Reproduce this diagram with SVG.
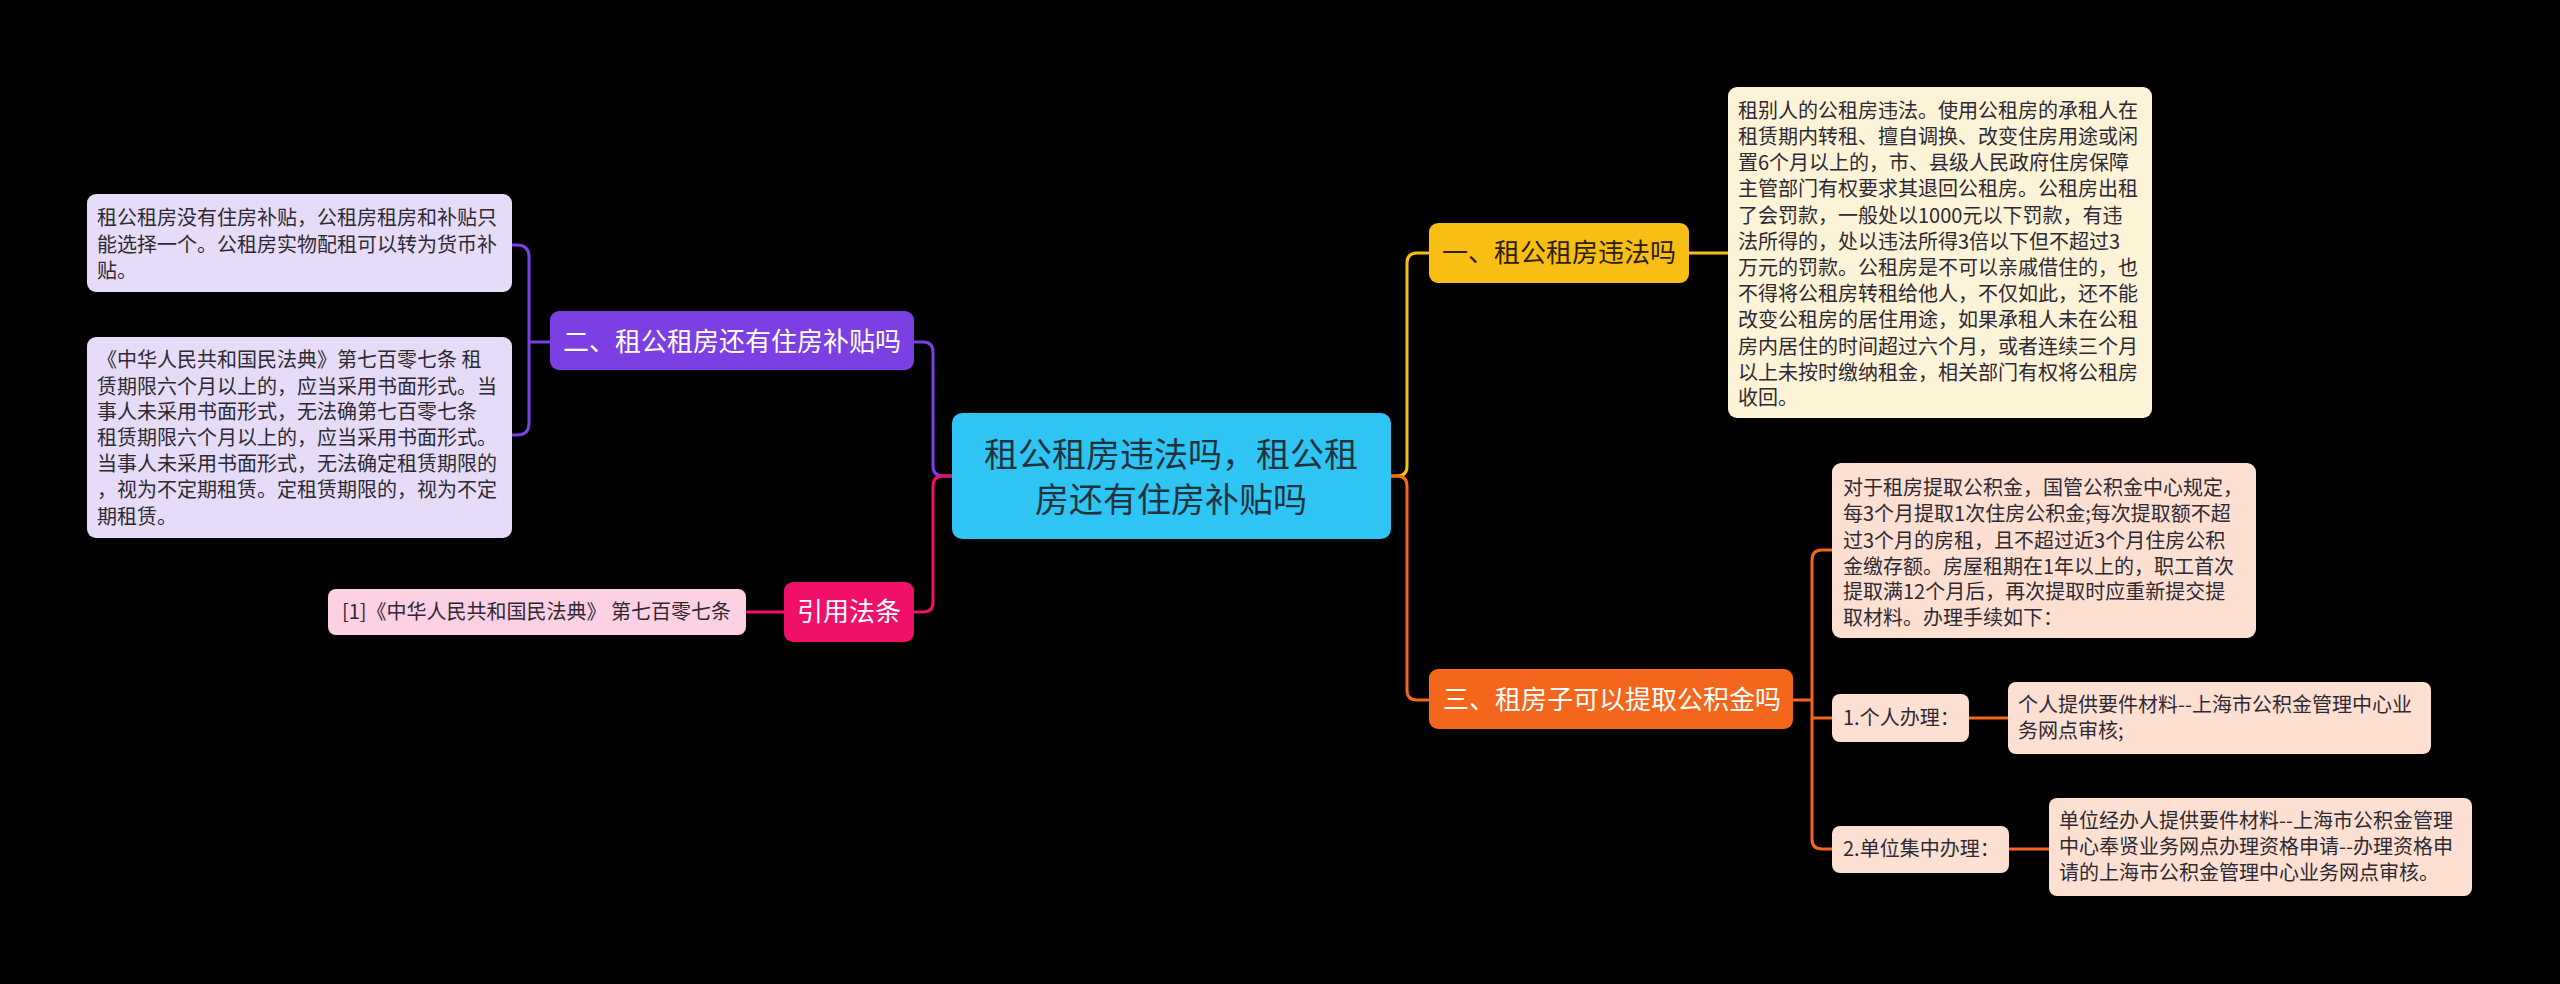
<svg xmlns="http://www.w3.org/2000/svg" width="2560" height="984" viewBox="0 0 2560 984">
<style>
text{font-family:"Noto Sans CJK SC","Noto Sans",sans-serif}
.d{font-size:20px;fill:#2e2a33}
.n{font-size:26px}
.c{fill:none;stroke-width:3}
</style>
<rect width="2560" height="984" fill="#000"/>
<g id="connectors">
<path class="c" stroke="#7b3fe4" d="M952,476 H943 Q933,476 933,466 V352 Q933,342 923,342 H914"/>
<path class="c" stroke="#f0106a" d="M952,476 H943 Q933,476 933,486 V602 Q933,612 923,612 H914"/>
<path class="c" stroke="#7b3fe4" d="M550,342 H529 M529,342 V257 Q529,245 517,245 H512 M529,342 V423 Q529,435 517,435 H512"/>
<path class="c" stroke="#f0106a" d="M784,612 H746"/>
<path class="c" stroke="#f9be14" d="M1391,476 H1397 Q1407,476 1407,466 V263 Q1407,253 1417,253 H1429"/>
<path class="c" stroke="#f4661b" d="M1391,476 H1397 Q1407,476 1407,486 V690 Q1407,700 1417,700 H1429"/>
<path class="c" stroke="#f9be14" d="M1689,253 H1728"/>
<path class="c" stroke="#f4661b" d="M1793,700 H1812 M1812,700 V560 Q1812,550 1822,550 H1832 M1812,700 V718 H1832 M1812,718 V839 Q1812,849 1822,849 H1832"/>
<path class="c" stroke="#f4661b" d="M1969,718 H2008 M2009,849 H2049"/>
</g>
<g id="center">
<rect x="952" y="413" width="439" height="126" rx="10" fill="#2ec4f3"/>
<text x="1171" y="467" font-size="34" fill="#1f333d" text-anchor="middle">租公租房违法吗，租公租</text>
<text x="1171" y="512" font-size="34" fill="#1f333d" text-anchor="middle">房还有住房补贴吗</text>
</g>
<g id="n1">
<rect x="1429" y="223" width="260" height="60" rx="9" fill="#f9be14"/>
<text class="n" x="1442" y="262" fill="#2b2100">一、租公租房违法吗</text>
</g>
<g id="n1d">
<rect x="1728" y="87" width="424" height="331" rx="9" fill="#fdf3d6"/>
<text class="d" x="1738" y="118">租别人的公租房违法。使用公租房的承租人在</text>
<text class="d" x="1738" y="144">租赁期内转租、擅自调换、改变住房用途或闲</text>
<text class="d" x="1738" y="170">置6个月以上的，市、县级人民政府住房保障</text>
<text class="d" x="1738" y="196">主管部门有权要求其退回公租房。公租房出租</text>
<text class="d" x="1738" y="223">了会罚款，一般处以1000元以下罚款，有违</text>
<text class="d" x="1738" y="249">法所得的，处以违法所得3倍以下但不超过3</text>
<text class="d" x="1738" y="275">万元的罚款。公租房是不可以亲戚借住的，也</text>
<text class="d" x="1738" y="301">不得将公租房转租给他人，不仅如此，还不能</text>
<text class="d" x="1738" y="327">改变公租房的居住用途，如果承租人未在公租</text>
<text class="d" x="1738" y="354">房内居住的时间超过六个月，或者连续三个月</text>
<text class="d" x="1738" y="380">以上未按时缴纳租金，相关部门有权将公租房</text>
<text class="d" x="1738" y="405">收回。</text>
</g>
<g id="n3">
<rect x="1429" y="669" width="364" height="60" rx="9" fill="#f4661b"/>
<text class="n" x="1443" y="709" fill="#fff">三、租房子可以提取公积金吗</text>
</g>
<g id="n3d">
<rect x="1832" y="463" width="424" height="175" rx="9" fill="#fde0d2"/>
<text class="d" x="1843" y="495">对于租房提取公积金，国管公积金中心规定，</text>
<text class="d" x="1843" y="521">每3个月提取1次住房公积金;每次提取额不超</text>
<text class="d" x="1843" y="548">过3个月的房租，且不超过近3个月住房公积</text>
<text class="d" x="1843" y="574">金缴存额。房屋租期在1年以上的，职工首次</text>
<text class="d" x="1843" y="599">提取满12个月后，再次提取时应重新提交提</text>
<text class="d" x="1843" y="625">取材料。办理手续如下：</text>
</g>
<g id="n31">
<rect x="1832" y="694" width="137" height="48" rx="8" fill="#fde0d2"/>
<text class="d" x="1843" y="725">1.个人办理：</text>
</g>
<g id="n31d">
<rect x="2008" y="682" width="423" height="72" rx="8" fill="#fde0d2"/>
<text class="d" x="2018" y="712">个人提供要件材料--上海市公积金管理中心业</text>
<text class="d" x="2018" y="738">务网点审核;</text>
</g>
<g id="n32">
<rect x="1832" y="826" width="177" height="47" rx="8" fill="#fde0d2"/>
<text class="d" x="1843" y="856">2.单位集中办理：</text>
</g>
<g id="n32d">
<rect x="2049" y="798" width="423" height="98" rx="8" fill="#fde0d2"/>
<text class="d" x="2059" y="828">单位经办人提供要件材料--上海市公积金管理</text>
<text class="d" x="2059" y="854">中心奉贤业务网点办理资格申请--办理资格申</text>
<text class="d" x="2059" y="880">请的上海市公积金管理中心业务网点审核。</text>
</g>
<g id="n2">
<rect x="550" y="311" width="364" height="59" rx="9" fill="#7b3fe4"/>
<text class="n" x="563" y="351" fill="#fff">二、租公租房还有住房补贴吗</text>
</g>
<g id="n2a">
<rect x="87" y="194" width="425" height="98" rx="9" fill="#e6dcf9"/>
<text class="d" x="97" y="225">租公租房没有住房补贴，公租房租房和补贴只</text>
<text class="d" x="97" y="252">能选择一个。公租房实物配租可以转为货币补</text>
<text class="d" x="97" y="278">贴。</text>
</g>
<g id="n2b">
<rect x="87" y="337" width="425" height="201" rx="9" fill="#e6dcf9"/>
<text class="d" x="97" y="367">《中华人民共和国民法典》第七百零七条 租</text>
<text class="d" x="97" y="394">赁期限六个月以上的，应当采用书面形式。当</text>
<text class="d" x="97" y="419">事人未采用书面形式，无法确第七百零七条</text>
<text class="d" x="97" y="445">租赁期限六个月以上的，应当采用书面形式。</text>
<text class="d" x="97" y="471">当事人未采用书面形式，无法确定租赁期限的</text>
<text class="d" x="97" y="497">，视为不定期租赁。定租赁期限的，视为不定</text>
<text class="d" x="97" y="524">期租赁。</text>
</g>
<g id="cite">
<rect x="784" y="582" width="130" height="60" rx="9" fill="#f0106a"/>
<text class="n" x="849" y="621" fill="#fff" text-anchor="middle">引用法条</text>
</g>
<g id="citeitem">
<rect x="328" y="589" width="418" height="46" rx="8" fill="#fdd0e4"/>
<text class="d" x="342" y="619">[1]《中华人民共和国民法典》 第七百零七条</text>
</g>
</svg>
